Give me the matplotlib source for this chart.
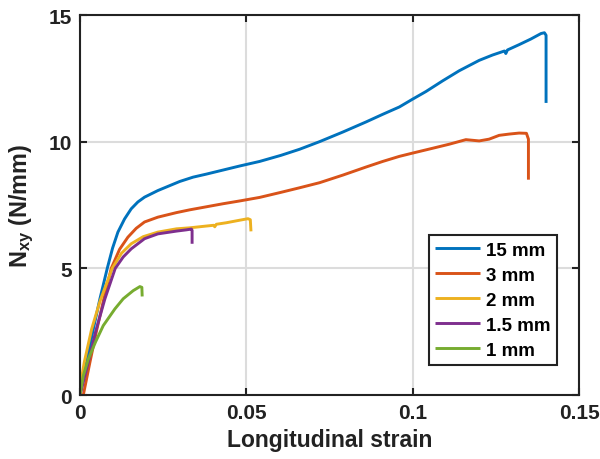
import matplotlib
matplotlib.use("Agg")
import matplotlib.pyplot as plt

# --- data ---
labels = ["15 mm", "3 mm", "2 mm", "1.5 mm", "1 mm"]
colors = ["#0072BD", "#D95319", "#EDB120", "#7E2F8E", "#77AC30"]

strain_15 = [0, 0.002, 0.004, 0.006, 0.0082, 0.0098, 0.0114, 0.0134, 0.0154, 0.0174, 0.0194,
             0.0234, 0.030, 0.034, 0.038, 0.043, 0.048, 0.054,
             0.0604, 0.066, 0.072, 0.079, 0.086, 0.091, 0.096, 0.1, 0.104, 0.109, 0.114,
             0.12, 0.124, 0.1276, 0.128, 0.1285, 0.132, 0.1355, 0.1386, 0.1396, 0.1401, 0.1401]
nxy_15 = [0, 1.3, 2.6, 3.8, 5.0, 5.8, 6.43, 6.95, 7.35, 7.62, 7.81,
          8.07, 8.43, 8.6, 8.72, 8.88, 9.04, 9.22,
          9.46, 9.7, 10.0, 10.38, 10.78, 11.08, 11.37, 11.68, 11.98, 12.4, 12.8,
          13.21, 13.42, 13.58, 13.48, 13.62, 13.83, 14.05, 14.27, 14.3, 14.2, 11.53]

strain_3 = [0.001, 0.003, 0.005, 0.007, 0.0094, 0.0119, 0.0144, 0.0169, 0.0194, 0.0234,
            0.029, 0.033, 0.038, 0.043, 0.048, 0.054, 0.0604, 0.066, 0.072,
            0.079, 0.086, 0.091, 0.096, 0.1, 0.106, 0.111, 0.116, 0.12, 0.123, 0.126, 0.129,
            0.132, 0.1342, 0.1348, 0.1348]
nxy_3 = [0, 1.3, 2.55, 3.7, 5.0, 5.75, 6.23, 6.58, 6.83, 7.02,
         7.2, 7.31, 7.43, 7.55, 7.66, 7.8, 8.0, 8.18, 8.38,
         8.68, 9.0, 9.22, 9.42, 9.55, 9.74, 9.9, 10.08, 10.03, 10.1, 10.25, 10.3,
         10.34, 10.33, 10.1, 8.5]

strain_2 = [0, 0.0013, 0.0035, 0.006, 0.0097, 0.0125, 0.0154, 0.019, 0.0234,
            0.029, 0.033, 0.038, 0.0402, 0.0405, 0.041, 0.044, 0.048, 0.0505, 0.0512, 0.0514]
nxy_2 = [0.3, 1.3, 2.6, 3.7, 5.0, 5.6, 5.97, 6.25, 6.43,
         6.56, 6.6, 6.67, 6.7, 6.64, 6.74, 6.8, 6.9, 6.96, 6.92, 6.46]

strain_15mm = [0, 0.0025, 0.0047, 0.0075, 0.0106, 0.013, 0.0154, 0.0194, 0.0234,
               0.029, 0.032, 0.0335, 0.0337, 0.0337]
nxy_15mm = [0, 1.3, 2.5, 3.8, 5.0, 5.45, 5.77, 6.17, 6.36,
            6.47, 6.52, 6.55, 6.5, 5.97]

strain_1 = [0, 0.001, 0.0025, 0.0047, 0.007, 0.0105, 0.013, 0.016, 0.018, 0.0186, 0.0187]
nxy_1 = [0, 0.76, 1.42, 2.1, 2.74, 3.4, 3.8, 4.12, 4.28, 4.25, 3.89]

x_ticks = [0, 0.05, 0.1, 0.15]
x_ticklabels = ["0", "0.05", "0.1", "0.15"]
y_ticks = [0, 5, 10, 15]

series = [(strain_15, nxy_15), (strain_3, nxy_3), (strain_2, nxy_2),
          (strain_15mm, nxy_15mm), (strain_1, nxy_1)]

# --- style ---
plt.rcParams["font.family"] = ["Liberation Sans", "DejaVu Sans"]
plt.rcParams["font.weight"] = "bold"
plt.rcParams["mathtext.fontset"] = "custom"
plt.rcParams["mathtext.rm"] = "Liberation Sans:bold"
plt.rcParams["mathtext.it"] = "Liberation Sans:bold"
plt.rcParams["mathtext.bf"] = "Liberation Sans:bold"

fig = plt.figure(figsize=(6, 4.6), dpi=100)
ax = fig.add_axes([0.1333, 0.1391, 0.8317, 0.8261])

for (sx, sy), lab, col in zip(series, labels, colors):
    ax.plot(sx, sy, color=col, lw=2.1, label=lab,
            solid_joinstyle="round", solid_capstyle="butt")

ax.set_xlim(0, 0.15)
ax.set_ylim(0, 15)
ax.set_xticks(x_ticks)
ax.set_xticklabels(x_ticklabels)
ax.set_yticks(y_ticks)
ax.grid(True, color="#dcdcdc", lw=1.5)
ax.set_axisbelow(True)

for sp in ax.spines.values():
    sp.set_linewidth(1.5)
    sp.set_color("#222222")
ax.tick_params(direction="in", length=5, width=1.5, top=True, right=True,
               labelsize=15, pad=6, colors="#222222", labelcolor="#222222")

ax.set_xlabel("Longitudinal strain", fontsize=16.5, fontweight="bold", labelpad=4, color="#222222")
ax.set_ylabel("N$_{xy}$ (N/mm)", fontsize=16.8, fontweight="bold", labelpad=9, color="#222222")

leg = ax.legend(loc="upper right", bbox_to_anchor=(0.956, 0.421), fontsize=13.5,
                handlelength=2.4, handletextpad=0.3, labelspacing=0.42,
                borderpad=0.35, borderaxespad=0, fancybox=False, framealpha=1)
leg.get_frame().set_edgecolor("#222222")
leg.get_frame().set_linewidth(1.5)
for t in leg.get_texts():
    t.set_fontweight("bold")

fig.savefig("out.png", dpi=100)
